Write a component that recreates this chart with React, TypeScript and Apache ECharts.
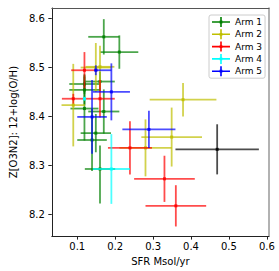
import React, { useEffect, useRef } from "react";
import * as echarts from "echarts";

const armNames = ["Arm 1", "Arm 2", "Arm 3", "Arm 4", "Arm 5"];
const armColors = ["#008000", "#bfbf00", "#ff0000", "#00ffff", "#0000ff"];

// each point: [x, y, xerrMinus, xerrPlus, yerrMinus, yerrPlus]
const arm1 = [
  [0.170, 8.562, 0.041, 0.041, 0.036, 0.036],
  [0.211, 8.531, 0.05, 0.05, 0.034, 0.034],
  [0.160, 8.471, 0.039, 0.039, 0.02, 0.02],
  [0.119, 8.466, 0.04, 0.04, 0.02, 0.02],
  [0.119, 8.454, 0.04, 0.04, 0.03, 0.03],
  [0.119, 8.416, 0.037, 0.037, 0.065, 0.065],
  [0.170, 8.410, 0.041, 0.041, 0.045, 0.045],
  [0.149, 8.366, 0.04, 0.04, 0.039, 0.039],
  [0.139, 8.352, 0.039, 0.039, 0.063, 0.063],
  [0.160, 8.293, 0.04, 0.04, 0.07, 0.048],
];
const arm2 = [
  [0.379, 8.434, 0.088, 0.088, 0.034, 0.034],
  [0.349, 8.358, 0.08, 0.08, 0.06, 0.06],
  [0.280, 8.336, 0.069, 0.069, 0.058, 0.058],
  [0.0895, 8.423, 0.031, 0.031, 0.084, 0.084],
  [0.149, 8.4995, 0.04, 0.04, 0.05, 0.05],
  [0.160, 8.501, 0.038, 0.038, 0.043, 0.043],
];
const arm3 = [
  [0.119, 8.494, 0.035, 0.035, 0.037, 0.037],
  [0.160, 8.436, 0.039, 0.039, 0.038, 0.038],
  [0.0895, 8.436, 0.03, 0.03, 0.01, 0.01],
  [0.239, 8.336, 0.058, 0.058, 0.054, 0.054],
  [0.330, 8.273, 0.08, 0.08, 0.047, 0.047],
  [0.360, 8.218, 0.08, 0.08, 0.042, 0.042],
];
const arm4 = [
  [0.119, 8.436, 0.004, 0.004, 0.004, 0.004],
  [0.190, 8.293, 0.049, 0.049, 0.071, 0.071],
];
const arm5 = [
  [0.149, 8.494, 0.004, 0.041, 0.01, 0.01],
  [0.190, 8.450, 0.049, 0.049, 0.058, 0.058],
  [0.139, 8.399, 0.039, 0.039, 0.075, 0.075],
  [0.289, 8.3735, 0.07, 0.07, 0.038, 0.038],
];
const otherPoints = [[0.469, 8.333, 0.11, 0.11, 0.051, 0.051]];
const armData = [arm1, arm2, arm3, arm4, arm5];

const xTicks = [0.1, 0.2, 0.3, 0.4, 0.5, 0.6];
const yTicks = [8.2, 8.3, 8.4, 8.5, 8.6];
const xRange = [0.0329, 0.6057];
const yRange = [8.1564, 8.6207];

const crossIcon = "path://M0,4.2H18V5.8H0Z M8.2,0H9.8V10H8.2Z M7.6,3.6H10.4V6.4H7.6Z";

function makeRenderItem(color: string) {
  return (params: any, api: any) => {
    const x = api.value(0);
    const y = api.value(1);
    const c = api.coord([x, y]);
    const l = api.coord([x - api.value(2), y]);
    const r = api.coord([x + api.value(3), y]);
    const b = api.coord([x, y - api.value(4)]);
    const t = api.coord([x, y + api.value(5)]);
    const lineStyle = { stroke: color, lineWidth: 1.8, opacity: 0.7 };
    return {
      type: "group",
      children: [
        { type: "line", shape: { x1: l[0], y1: l[1], x2: r[0], y2: r[1] }, style: lineStyle },
        { type: "line", shape: { x1: b[0], y1: b[1], x2: t[0], y2: t[1] }, style: lineStyle },
        { type: "rect", shape: { x: c[0] - 1.5, y: c[1] - 1.5, width: 3, height: 3 }, style: { fill: color, opacity: 0.85 } },
      ],
    };
  };
}

export default function App() {
  const ref = useRef<HTMLDivElement>(null);
  useEffect(() => {
    if (!ref.current) return;
    const chart = echarts.init(ref.current, undefined, { renderer: "svg" });
    const font = "DejaVu Sans";
    const series: any[] = armData.map((d, i) => ({
      type: "custom",
      name: armNames[i],
      data: d,
      encode: { x: 0, y: 1 },
      itemStyle: { color: armColors[i] },
      renderItem: makeRenderItem(armColors[i]),
      clip: true,
    }));
    series.push({
      type: "custom",
      name: "other",
      data: otherPoints,
      encode: { x: 0, y: 1 },
      itemStyle: { color: "#000000" },
      renderItem: makeRenderItem("#000000"),
      clip: true,
    });
    chart.setOption({
      animation: false,
      textStyle: { fontFamily: font },
      grid: { left: 36, top: 8, right: 10, bottom: 32 },
      legend: {
        orient: "vertical",
        left: 209,
        top: 15,
        padding: [2, 3, 2, 3],
        itemWidth: 18,
        itemHeight: 10,
        itemGap: 2.3,
        backgroundColor: "#ffffff",
        borderColor: "#cccccc",
        borderWidth: 1,
        borderRadius: 2,
        textStyle: { fontSize: 9, color: "#000", fontFamily: font },
        data: armNames.map((n) => ({ name: n, icon: crossIcon })),
      },
      xAxis: [
        {
          type: "value",
          min: xRange[0],
          max: xRange[1],
          name: "SFR Msol/yr",
          nameLocation: "middle",
          nameGap: 13,
          nameTextStyle: { fontSize: 10, color: "#000", fontFamily: font },
          splitLine: { show: false },
          axisLine: { show: true, lineStyle: { color: "#222", width: 1 } },
          axisTick: { show: true, length: 3.5, lineStyle: { color: "#222" }, customValues: xTicks },
          axisLabel: { fontSize: 10, color: "#000", margin: 5, customValues: xTicks, formatter: (v: number) => v.toFixed(1) },
        },
        {
          type: "value",
          position: "top",
          min: xRange[0],
          max: xRange[1],
          splitLine: { show: false },
          axisLine: { show: true, onZero: false, lineStyle: { color: "#555", width: 1 } },
          axisTick: { show: false },
          axisLabel: { show: false },
        },
      ],
      yAxis: [
        {
          type: "value",
          min: yRange[0],
          max: yRange[1],
          name: "Z[O3N2]: 12+log(O/H)",
          nameLocation: "middle",
          nameGap: 24,
          nameTextStyle: { fontSize: 10, color: "#000", fontFamily: font },
          splitLine: { show: false },
          axisLine: { show: true, lineStyle: { color: "#222", width: 1 } },
          axisTick: { show: true, length: 3.5, lineStyle: { color: "#222" }, customValues: yTicks },
          axisLabel: { fontSize: 10, color: "#000", margin: 7, customValues: yTicks, formatter: (v: number) => v.toFixed(1) },
        },
        {
          type: "value",
          position: "right",
          min: yRange[0],
          max: yRange[1],
          splitLine: { show: false },
          axisLine: { show: true, onZero: false, lineStyle: { color: "#999", width: 1.5 } },
          axisTick: { show: false },
          axisLabel: { show: false },
        },
      ],
      series,
    });
    return () => chart.dispose();
  }, []);
  return (
    <div
      ref={ref}
      style={{ position: "fixed", left: 0, top: 0, width: 279, height: 271, background: "#fff" }}
    />
  );
}
